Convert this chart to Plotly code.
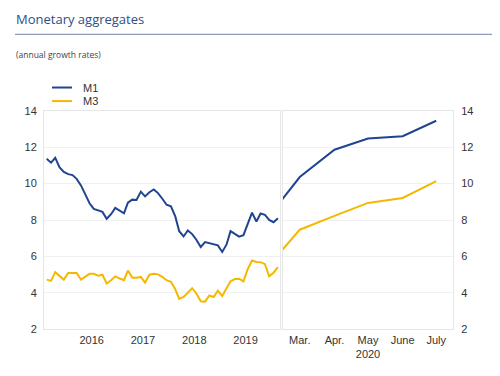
import plotly.graph_objects as go
import pandas as pd

# ---- data ----
hist_dates = pd.date_range("2015-08-01", "2020-02-01", freq="MS").strftime("%Y-%m-%d").tolist()
m1_hist = [11.36, 11.15, 11.42, 10.89, 10.64, 10.52, 10.47, 10.26, 9.90, 9.42,
           8.92, 8.61, 8.53, 8.45, 8.07, 8.32, 8.67, 8.50, 8.37, 8.96,
           9.12, 9.10, 9.56, 9.30, 9.53, 9.68, 9.48, 9.17, 8.84, 8.75,
           8.20, 7.39, 7.10, 7.43, 7.23, 6.92, 6.52, 6.79, 6.73, 6.65,
           6.61, 6.25, 6.66, 7.39, 7.26, 7.09, 7.17, 7.75, 8.41, 7.92,
           8.36, 8.29, 8.01, 7.88, 8.10]
m3_hist = [4.73, 4.66, 5.14, 4.91, 4.73, 5.10, 5.10, 5.09, 4.73, 4.91,
           5.05, 5.05, 4.94, 5.00, 4.52, 4.70, 4.91, 4.79, 4.70, 5.23,
           4.84, 4.84, 4.88, 4.57, 5.00, 5.05, 5.02, 4.88, 4.70, 4.61,
           4.20, 3.67, 3.78, 4.01, 4.26, 3.97, 3.54, 3.52, 3.86, 3.78,
           4.12, 3.83, 4.25, 4.64, 4.76, 4.78, 4.63, 5.30, 5.78, 5.70,
           5.69, 5.58, 4.91, 5.11, 5.41]

recent_dates = ["2020-02-01", "2020-03-01", "2020-04-01", "2020-05-01", "2020-06-01", "2020-07-01"]
m1_recent = [8.10, 10.36, 11.86, 12.48, 12.60, 13.45]
m3_recent = [5.41, 7.47, 8.23, 8.94, 9.21, 10.14]

year_tickvals = ["2016-06-16", "2017-06-16", "2018-06-16", "2019-06-16"]
year_ticktext = ["2016", "2017", "2018", "2019"]
month_tickvals = ["2020-03-01", "2020-04-01", "2020-05-01", "2020-06-01", "2020-07-01"]
month_ticktext = ["Mar.", "Apr.", "May<br>2020", "June", "July"]
y_ticks = [2, 4, 6, 8, 10, 12, 14]

series_names = ["M1", "M3"]
BLUE = "#1f4591"
YELLOW = "#f5b800"
OFF = 8  # page body margin
W, H = 500 - OFF, 376 - OFF


def px(x):
    return (x - OFF) / W


def py(y):
    return 1 - (y - OFF) / H


fig = go.Figure()
fig.add_trace(go.Scatter(x=hist_dates, y=m1_hist, mode="lines", name="M1",
                         line=dict(color=BLUE, width=2), xaxis="x", yaxis="y", showlegend=False))
fig.add_trace(go.Scatter(x=hist_dates, y=m3_hist, mode="lines", name="M3",
                         line=dict(color=YELLOW, width=2), xaxis="x", yaxis="y", showlegend=False))
fig.add_trace(go.Scatter(x=recent_dates, y=m1_recent, mode="lines", name="M1",
                         line=dict(color=BLUE, width=2), xaxis="x2", yaxis="y2", showlegend=False))
fig.add_trace(go.Scatter(x=recent_dates, y=m3_recent, mode="lines", name="M3",
                         line=dict(color=YELLOW, width=2), xaxis="x2", yaxis="y2", showlegend=False))

tickfont = dict(family="Liberation Sans, Arial, sans-serif", size=11, color="#333333")
LINE = "#e6e6e6"
GRID = "#f0f0f0"
ydom = [py(334), py(108)]

fig.update_layout(
    width=W, height=H,
    margin=dict(l=0, r=0, t=0, b=0),
    paper_bgcolor="white", plot_bgcolor="white",
    xaxis=dict(domain=[px(44), px(280)], type="date", range=["2015-07-13", "2020-02-16"],
               tickvals=year_tickvals, ticktext=year_ticktext, ticks="", showgrid=False,
               showline=True, mirror=True, linecolor=LINE, linewidth=1,
               tickfont=tickfont, anchor="y"),
    yaxis=dict(domain=ydom, range=[2, 14], tickvals=y_ticks, ticks="", side="left",
               showgrid=True, gridcolor=GRID, showline=True, mirror=True, linecolor=LINE,
               zeroline=False, tickfont=tickfont, ticklabelstandoff=4, anchor="x"),
    xaxis2=dict(domain=[px(283), px(453)], type="date", range=["2020-02-15", "2020-07-16"],
                tickvals=month_tickvals, ticktext=month_ticktext, ticks="", showgrid=False,
                showline=True, mirror=True, linecolor=LINE, linewidth=1,
                tickfont=tickfont, anchor="y2"),
    yaxis2=dict(domain=ydom, range=[2, 14], tickvals=y_ticks, ticks="", side="right",
                showgrid=True, gridcolor=GRID, showline=True, mirror=True, linecolor=LINE,
                zeroline=False, tickfont=tickfont, ticklabelstandoff=5, anchor="x2"),
    showlegend=False,
)

# title, rule, subtitle
fig.add_annotation(text="Monetary aggregates", xref="paper", yref="paper",
                   x=px(14), y=py(13), xanchor="left", yanchor="middle", showarrow=False,
                   font=dict(family="Open Sans, sans-serif", size=13, color="#2d4f86"))
fig.add_shape(type="line", xref="paper", yref="paper", x0=px(15), x1=1, y0=py(29), y1=py(29),
              line=dict(color="#8d9cb6", width=1.2))
fig.add_annotation(text="(annual growth rates)", xref="paper", yref="paper",
                   x=px(14), y=py(50), xanchor="left", yanchor="middle", showarrow=False,
                   font=dict(family="Open Sans, sans-serif", size=8.5, color="#444444"))

# legend
for name, color, yy in zip(series_names, [BLUE, YELLOW], [84, 98]):
    fig.add_shape(type="line", xref="paper", yref="paper", x0=px(52), x1=px(72),
                  y0=py(yy), y1=py(yy), line=dict(color=color, width=2))
    fig.add_annotation(text=name, xref="paper", yref="paper", x=px(81), y=py(yy),
                       xanchor="left", yanchor="middle", showarrow=False, font=tickfont)

fig.write_html("out.html")
